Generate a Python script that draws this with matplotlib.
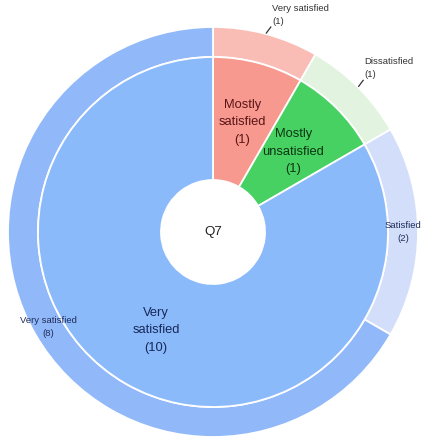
import numpy as np
import matplotlib
matplotlib.use("Agg")
import matplotlib.pyplot as plt

plt.rcParams['font.family'] = ['Liberation Sans', 'DejaVu Sans']

center_label = "Q7"
inner_labels = ["Mostly\nsatisfied", "Mostly\nunsatisfied", "Very\nsatisfied"]
inner_values = [1, 1, 10]
inner_colors = ["#F7998F", "#48D163", "#8BBAFB"]
inner_text_colors = ["#5a1616", "#0c3512", "#17285a"]

outer_labels = ["Very satisfied", "Dissatisfied", "Satisfied", "Very satisfied"]
outer_values = [1, 1, 2, 8]
outer_colors = ["#F9BDB6", "#E2F4DF", "#D3DEFA", "#91B8F8"]
outer_text_colors = ["#333333", "#333333", "#1f2d5a", "#1f2d5a"]
outer_inside = [False, False, True, True]

W, H = 423, 440
fig = plt.figure(figsize=(W / 100, H / 100), dpi=100)
ax = fig.add_axes([0, 0, 1, 1])
ax.axis('off')

cx, cy = 213, 208
R = 205
r_mid = 175
r_hole = 52

wp = dict(linewidth=1.3, edgecolor='white')
ax.pie(outer_values, colors=outer_colors, radius=R, center=(cx, cy),
       startangle=90, counterclock=False,
       wedgeprops=dict(width=R - r_mid, **wp))
ax.pie(inner_values, colors=inner_colors, radius=r_mid, center=(cx, cy),
       startangle=90, counterclock=False,
       wedgeprops=dict(width=r_mid - r_hole, **wp))
ax.set_xlim(0, W)
ax.set_ylim(0, H)
ax.set_aspect('equal')


def pos(angle_deg, r):
    a = np.deg2rad(angle_deg)
    return cx + r * np.sin(a), cy + r * np.cos(a)


tot = sum(inner_values)
start = 0
for lab, v, tc in zip(inner_labels, inner_values, inner_text_colors):
    mid = (start + v / 2) / tot * 360
    x, y = pos(mid, (r_mid + r_hole) / 2)
    ax.text(x, y, f"{lab}\n({v})", ha='center', va='center', fontsize=9.3,
            color=tc, linespacing=1.6)
    start += v

tot = sum(outer_values)
start = 0
for lab, v, tc, inside in zip(outer_labels, outer_values, outer_text_colors, outer_inside):
    mid = (start + v / 2) / tot * 360
    if inside:
        x, y = pos(mid, (R + r_mid) / 2)
        ax.text(x, y, f"{lab}\n({v})", ha='center', va='center', fontsize=6.8,
                color=tc, linespacing=1.5)
    else:
        x0, y0 = pos(mid, R + 1)
        x1, y1 = x0 + 4.5, y0 + 6
        ax.plot([x0, x1], [y0, y1], color='#333333', lw=0.9)
        ax.text(x1 + 1.5, y1 + 1, f"{lab}\n({v})", ha='left', va='bottom',
                fontsize=6.8, color=tc, linespacing=1.55, multialignment='left')
    start += v

ax.text(cx, cy, center_label, ha='center', va='center', fontsize=9.6, color='#222222')

fig.savefig("out.png", dpi=100)
